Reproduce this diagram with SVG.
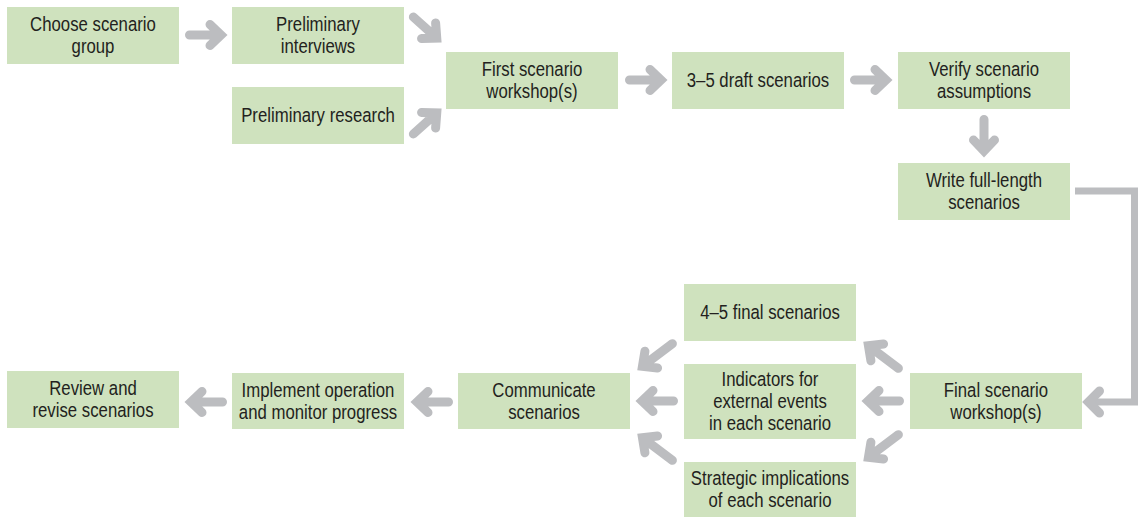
<svg xmlns="http://www.w3.org/2000/svg" xmlns:xlink="http://www.w3.org/1999/xlink" width="1138" height="517" viewBox="0 0 1138 517">
<style>
.box{fill:#cfe2be}
.t{font-family:"Liberation Sans Narrow","Liberation Sans",Arial,sans-serif;font-size:19.5px;fill:#231f20;text-anchor:middle}
.ar{fill:none;stroke:#bcbdc0;stroke-width:9;stroke-linecap:round;stroke-linejoin:miter}
.ln{fill:none;stroke:#bcbdc0;stroke-width:7;stroke-linejoin:miter}
</style>
<defs>
<path id="aS" d="M4.5,0 H35 M25,-10.5 L36,0 L25,10.5"/>
<path id="aL" d="M4.5,0 H41 M31,-10.5 L42,0 L31,10.5"/>
</defs>
<rect width="1138" height="517" fill="#ffffff"/>
<g id="n-choose"><rect class="box" x="7" y="7" width="172" height="57"/><g transform="translate(93 0) scale(0.86 1)"><text class="t" x="0" y="31">Choose scenario</text><text class="t" x="0" y="53">group</text></g></g>
<g id="n-interviews"><rect class="box" x="232" y="7" width="172" height="57"/><g transform="translate(318 0) scale(0.86 1)"><text class="t" x="0" y="31">Preliminary</text><text class="t" x="0" y="53">interviews</text></g></g>
<g id="n-research"><rect class="box" x="232" y="87" width="172" height="57"/><g transform="translate(318 0) scale(0.86 1)"><text class="t" x="0" y="122">Preliminary research</text></g></g>
<g id="n-first"><rect class="box" x="446" y="52" width="172" height="57"/><g transform="translate(532 0) scale(0.86 1)"><text class="t" x="0" y="76">First scenario</text><text class="t" x="0" y="98">workshop(s)</text></g></g>
<g id="n-draft"><rect class="box" x="672" y="52" width="172" height="57"/><g transform="translate(758 0) scale(0.86 1)"><text class="t" x="0" y="87">3–5 draft scenarios</text></g></g>
<g id="n-verify"><rect class="box" x="898" y="52" width="172" height="57"/><g transform="translate(984 0) scale(0.86 1)"><text class="t" x="0" y="76">Verify scenario</text><text class="t" x="0" y="98">assumptions</text></g></g>
<g id="n-write"><rect class="box" x="898" y="163" width="172" height="57"/><g transform="translate(984 0) scale(0.86 1)"><text class="t" x="0" y="187">Write full-length</text><text class="t" x="0" y="209">scenarios</text></g></g>
<g id="n-final"><rect class="box" x="910" y="373" width="172" height="56"/><g transform="translate(996 0) scale(0.86 1)"><text class="t" x="0" y="397">Final scenario</text><text class="t" x="0" y="419">workshop(s)</text></g></g>
<g id="n-fourfive"><rect class="box" x="684" y="284" width="172" height="57"/><g transform="translate(770 0) scale(0.86 1)"><text class="t" x="0" y="319">4–5 final scenarios</text></g></g>
<g id="n-indicators"><rect class="box" x="684" y="364" width="172" height="75"/><g transform="translate(770 0) scale(0.86 1)"><text class="t" x="0" y="386">Indicators for</text><text class="t" x="0" y="408">external events</text><text class="t" x="0" y="430">in each scenario</text></g></g>
<g id="n-strategic"><rect class="box" x="684" y="462" width="172" height="55"/><g transform="translate(770 0) scale(0.86 1)"><text class="t" x="0" y="485">Strategic implications</text><text class="t" x="0" y="507">of each scenario</text></g></g>
<g id="n-communicate"><rect class="box" x="458" y="373" width="172" height="56"/><g transform="translate(544 0) scale(0.86 1)"><text class="t" x="0" y="397">Communicate</text><text class="t" x="0" y="419">scenarios</text></g></g>
<g id="n-implement"><rect class="box" x="232" y="373" width="172" height="56"/><g transform="translate(318 0) scale(0.86 1)"><text class="t" x="0" y="397">Implement operation</text><text class="t" x="0" y="419">and monitor progress</text></g></g>
<g id="n-review"><rect class="box" x="7" y="371" width="172" height="57"/><g transform="translate(93 0) scale(0.86 1)"><text class="t" x="0" y="395">Review and</text><text class="t" x="0" y="417">revise scenarios</text></g></g>
<g id="connectors">
<use class="ar" xlink:href="#aS" href="#aS" transform="translate(185,35)"/>
<use class="ar" xlink:href="#aS" href="#aS" transform="translate(410,14) rotate(42)"/>
<use class="ar" xlink:href="#aS" href="#aS" transform="translate(410,137) rotate(-42)"/>
<use class="ar" xlink:href="#aS" href="#aS" transform="translate(625,80)"/>
<use class="ar" xlink:href="#aS" href="#aS" transform="translate(850,80)"/>
<use class="ar" xlink:href="#aS" href="#aS" transform="translate(984,115) rotate(90)"/>
<path class="ln" d="M1075,191 H1134.5 V402 H1092"/>
<path class="ar" d="M1099.5,391 L1088.5,402 L1099.5,413"/>
<use class="ar" xlink:href="#aL" href="#aL" transform="translate(902,371) rotate(-143)"/>
<use class="ar" xlink:href="#aS" href="#aS" transform="translate(904,401) rotate(180)"/>
<use class="ar" xlink:href="#aL" href="#aL" transform="translate(902,432) rotate(143)"/>
<use class="ar" xlink:href="#aL" href="#aL" transform="translate(676,341) rotate(143)"/>
<use class="ar" xlink:href="#aS" href="#aS" transform="translate(678,401) rotate(180)"/>
<use class="ar" xlink:href="#aL" href="#aL" transform="translate(676,463) rotate(-143)"/>
<use class="ar" xlink:href="#aS" href="#aS" transform="translate(453,402) rotate(180)"/>
<use class="ar" xlink:href="#aS" href="#aS" transform="translate(227,402) rotate(180)"/>
</g>
</svg>
